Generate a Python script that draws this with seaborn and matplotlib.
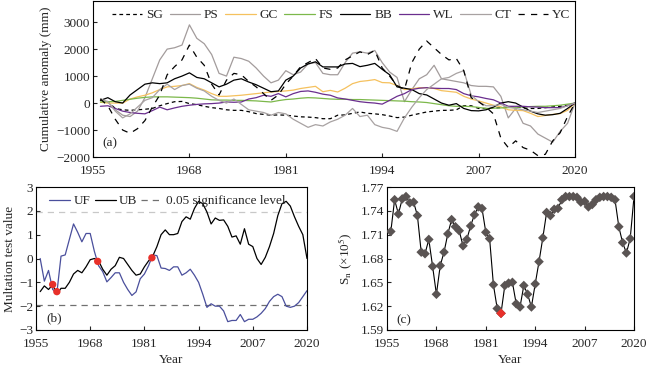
"""Cumulative anomaly, M-K mutation test and Pettitt S_n panels."""

import numpy as np
import pandas as pd
import matplotlib
matplotlib.use("Agg")
import matplotlib.pyplot as plt
import seaborn as sns

years = list(range(1956, 2021))

# --- (a) cumulative anomaly (mm) ---
sg = [150, 50, -200, -250, -270, -250, -230, -200, -100, -20, 50, 60, -20, -60, -120, -170,
      -200, -250, -270, -270, -320, -390, -420, -450, -440, -450, -480, -510, -520, -540, -580,
      -580, -450, -440, -380, -330, -380, -400, -430, -480, -540, -520, -450, -390, -330, -300,
      -270, -270, -250, -100, -100, -200, -200, -190, -170, -150, -140, -180, -200, -200, -170,
      -140, -120, -80, 0]
ps = [100, 50, -250, -450, -500, -300, 200, 900, 1600, 2000, 2050, 2150, 2900, 2400, 2200, 1800,
      1100, 1000, 1700, 1650, 1550, 1300, 1000, 750, 850, 1200, 1050, 1150, 1450, 1500, 1100,
      1050, 1050, 1500, 1850, 1900, 1850, 1950, 1500, 1150, 950, 50, 500, 900, 1050, 1400,
      900, 850, 800, 750, 650, 620, 620, 600, 250, -550, -200, -750, -850, -1150, -1300,
      -1450, -1050, -750, 0]
gc = [30, 0, 0, 0, 150, 230, 290, 380, 500, 600, 620, 650, 720, 580, 480, 350,
      250, 250, 270, 290, 320, 350, 380, 410, 430, 450, 480, 540, 580, 620, 420,
      470, 410, 550, 720, 800, 830, 870, 760, 750, 650, 500, 530, 570, 570, 540,
      460, 430, 400, 250, 150, 80, 0, -80, -140, -250, -270, -280, -380, -500, -460,
      -420, -390, -270, 0]
fs = [40, 50, 60, 100, 140, 180, 210, 230, 230, 230, 220, 210, 200, 180, 150, 120,
      110, 110, 100, 100, 90, 80, 60, 40, 90, 130, 150, 180, 200, 190, 170,
      150, 140, 140, 130, 130, 120, 110, 100, 90, 80, 70, 50, 40, 20, -20,
      -60, -100, -120, -120, -130, -160, -200, -190, -180, -170, -160, -140, -130, -120, -120,
      -100, -80, -40, 0]
bb = [100, 200, 50, 0, 300, 500, 700, 750, 720, 750, 900, 1000, 1120, 950, 900, 750,
      600, 700, 850, 900, 780, 680, 550, 420, 450, 850, 1000, 1300, 1450, 1530, 1340,
      1340, 1340, 1450, 1470, 1350, 1400, 1470, 1250, 1050, 600, 550, 500, 350, 300, 150,
      0, -80, -20, -200, -280, -290, -250, -150, 0, 50, 0, -150, -300, -400, -450,
      -430, -380, -200, 0]
wl = [-120, -100, -200, -300, -350, -380, -400, -280, -150, -250, -180, -120, -80, -50, -30, -20,
      0, 40, 30, 40, 150, 200, 290, 250, 350, 230, 350, 430, 450, 400, 330,
      290, 190, 150, 100, 50, 20, 0, -40, 100, 250, 350, 500, 550, 570, 550,
      540, 540, 500, 350, 270, 230, 170, 120, 0, -120, -120, -120, -140, -150, -170,
      -170, -170, -100, 0]
ct = [150, 50, -300, -550, -400, -150, 100, 200, 500, 700, 500, 650, 700, 550, 450, 250,
      100, 0, 150, -50, -250, -300, -350, -450, -350, -400, -600, -750, -900, -800, -850,
      -700, -600, -450, -200, -500, -450, -800, -900, -950, -1050, -550, -150, 200, 500, 700,
      900, 950, 1100, 1200, 300, 50, -100, -100, -50, -150, -200, -250, -300, -350, -300,
      -250, -200, -100, 0]
yc = [150, -100, -600, -1000, -1120, -950, -650, -150, 300, 1050, 1350, 1600, 2150, 1700, 1400, 700,
      300, 850, 1100, 1050, 800, 600, 350, 100, 300, 700, 1000, 1350, 1500, 1650, 1300,
      1250, 1300, 1600, 1750, 1900, 1800, 1950, 1300, 1000, 650, 500, 1500, 2000, 2300, 2050,
      1800, 1600, 1650, 1200, 200, 50, -150, -400, -1300, -1650, -1400, -1650, -1750, -1950, -1900,
      -1400, -1100, -500, 0]

# --- (b) Mann-Kendall mutation test ---
uf = [0.0, -0.95, -0.5, -1.3, -1.45, 0.1, 0.15, 0.8, 1.45, 1.1, 0.7, 1.05, 1.05, 0.3, -0.3, -0.55,
      -0.98, -0.8, -0.6, -0.6, -1.0, -1.3, -1.55, -1.4, -0.85, -0.65, -0.3, 0.15, 0.12, -0.4, -0.42,
      -0.5, -0.35, -0.35, -0.7, -0.6, -0.45, -0.7, -1.0, -1.5, -2.05, -1.9, -2.0, -2.0, -2.2, -2.65,
      -2.6, -2.6, -2.35, -2.65, -2.55, -2.55, -2.45, -2.3, -2.1, -1.8, -1.6, -1.5, -1.6, -2.0, -2.05,
      -2.0, -1.85, -1.6, -1.35]
ub = [-1.39, -1.15, -1.3, -1.1, -1.5, -1.25, -1.25, -1.0, -0.65, -0.5, -0.6, -0.35, -0.05, 0.0, -0.1, -0.45,
      -0.7, -0.45, -0.3, 0.05, 0.0, -0.25, -0.5, -0.7, -0.65, -0.35, -0.1, 0.1, 0.5, 1.0, 1.2,
      1.0, 1.0, 1.05, 1.55, 1.75, 1.65, 2.1, 2.4, 2.3, 1.95, 1.45, 1.7, 1.6, 1.62, 1.35,
      0.9, 0.95, 0.6, 1.25, 0.6, 0.5, 0.0, -0.25, 0.05, 0.5, 1.05, 1.8, 2.3, 2.4, 2.2,
      1.75, 1.35, 1.0, 0.0]
cross_years = [1959.0, 1960.0, 1969.8, 1982.8]
cross_vals = [-1.09, -1.39, -0.12, 0.03]
sig_level = 1.96

# --- (c) Pettitt S_n (x10^5) ---
sn = [1.714, 1.754, 1.736, 1.755, 1.758, 1.750, 1.751, 1.734, 1.688, 1.686, 1.704, 1.670, 1.635,
      1.671, 1.688, 1.711, 1.729, 1.720, 1.715, 1.696, 1.704, 1.721, 1.735, 1.745, 1.743, 1.713,
      1.705, 1.647, 1.617, 1.611, 1.646, 1.649, 1.650, 1.623, 1.619, 1.646, 1.635, 1.619, 1.648,
      1.676, 1.706, 1.738, 1.734, 1.742, 1.743, 1.754, 1.758, 1.758, 1.758, 1.757, 1.751, 1.752,
      1.745, 1.748, 1.754, 1.757, 1.758, 1.758, 1.757, 1.754, 1.720, 1.700, 1.687, 1.705, 1.758]
change_year = 1985

xticks = [1955, 1968, 1981, 1994, 2007, 2020]

sns.set_style("ticks")
plt.rcParams["font.family"] = ["Liberation Serif", "DejaVu Serif"]
plt.rcParams["mathtext.fontset"] = "stix"
plt.rcParams["font.size"] = 9.5
plt.rcParams["axes.linewidth"] = 0.8

fig = plt.figure(figsize=(6.5, 3.69), dpi=100)
ax_a = fig.add_axes([0.1431, 0.5745, 0.7415, 0.4240])
ax_b = fig.add_axes([0.0554, 0.1057, 0.4169, 0.3875])
ax_c = fig.add_axes([0.5954, 0.1057, 0.3800, 0.3875])

# panel a
series = [("SG", sg, "black", (0, (3, 2.5))),
          ("PS", ps, "#a39c9c", "-"),
          ("GC", gc, "#f5c15e", "-"),
          ("FS", fs, "#7cb84a", "-"),
          ("BB", bb, "black", "-"),
          ("WL", wl, "#6a2e8e", "-"),
          ("CT", ct, "#a8a2a2", "-"),
          ("YC", yc, "black", (0, (5, 5)))]
for name, vals, col, ls in series:
    sns.lineplot(x=years, y=vals, color=col, linestyle=ls, linewidth=0.9,
                 label=name, ax=ax_a)
ax_a.set_xlim(1955, 2020)
ax_a.set_ylim(-2000, 3800)
ax_a.set_xticks(xticks)
ax_a.set_yticks(range(-2000, 3001, 1000))
ax_a.set_ylabel("Cumulative anomaly (mm)", labelpad=3)
ax_a.legend(ncol=8, loc="upper center", bbox_to_anchor=(0.515, 1.0), frameon=False,
            handlelength=2.3, columnspacing=0.5, handletextpad=0.3, borderaxespad=0.25)
ax_a.text(0.02, 0.07, "(a)", transform=ax_a.transAxes)

# panel b
ax_b.axhline(sig_level, color="#c8c8c8", linestyle=(0, (5, 4)), linewidth=0.9)
ax_b.axhline(-sig_level, color="#707070", linestyle=(0, (5, 4)), linewidth=0.9,
             label="0.05 significance level")
sns.lineplot(x=years, y=uf, color="#4a4f9c", linewidth=0.9, label="UF", ax=ax_b)
sns.lineplot(x=years, y=ub, color="black", linewidth=0.9, label="UB", ax=ax_b)
sns.scatterplot(x=cross_years, y=cross_vals, color="#e8302a", s=28, edgecolor="none",
                zorder=5, ax=ax_b)
h, l = ax_b.get_legend_handles_labels()
order = [l.index("UF"), l.index("UB"), l.index("0.05 significance level")]
ax_b.legend([h[i] for i in order], [l[i] for i in order], ncol=3, loc="upper left",
            bbox_to_anchor=(0.02, 1.0), frameon=False, handlelength=1.6, columnspacing=0.3,
            handletextpad=0.25, borderaxespad=0.2)
ax_b.set_xlim(1955, 2020)
ax_b.set_ylim(-3, 3)
ax_b.set_xticks(xticks)
ax_b.set_yticks(range(-3, 4))
ax_b.set_xlabel("Year", labelpad=3)
ax_b.set_ylabel("Multation test value", labelpad=2)
ax_b.text(0.04, 0.06, "(b)", transform=ax_b.transAxes)

# panel c
sns.lineplot(x=years, y=sn, color="black", linewidth=0.8, ax=ax_c)
sns.scatterplot(x=years, y=sn, marker="D", color="#5a5453", s=24, edgecolor="none",
                zorder=4, ax=ax_c)
sns.scatterplot(x=[change_year], y=[sn[years.index(change_year)]], marker="D",
                color="#e8302a", s=24, edgecolor="none", zorder=5, ax=ax_c)
ax_c.set_xlim(1955, 2020)
ax_c.set_ylim(1.59, 1.77)
ax_c.set_xticks(xticks)
ax_c.set_yticks(np.arange(1.59, 1.771, 0.03))
ax_c.yaxis.set_major_formatter(matplotlib.ticker.FormatStrFormatter("%.2f"))
ax_c.set_xlabel("Year", labelpad=3)
ax_c.set_ylabel(r"S$_\mathrm{n}$ (×10$^5$)", labelpad=4)
ax_c.text(0.036, 0.05, "(c)", transform=ax_c.transAxes)

for ax in (ax_a, ax_b, ax_c):
    ax.tick_params(direction="in", length=3, width=0.8, labelsize=9.5)
    ax.tick_params(axis="x", pad=5.5)
    ax.tick_params(axis="y", pad=2)
    for sp in ax.spines.values():
        sp.set_visible(True)
        sp.set_color("black")
        sp.set_linewidth(0.8)

fig.savefig("out.png", dpi=100)
